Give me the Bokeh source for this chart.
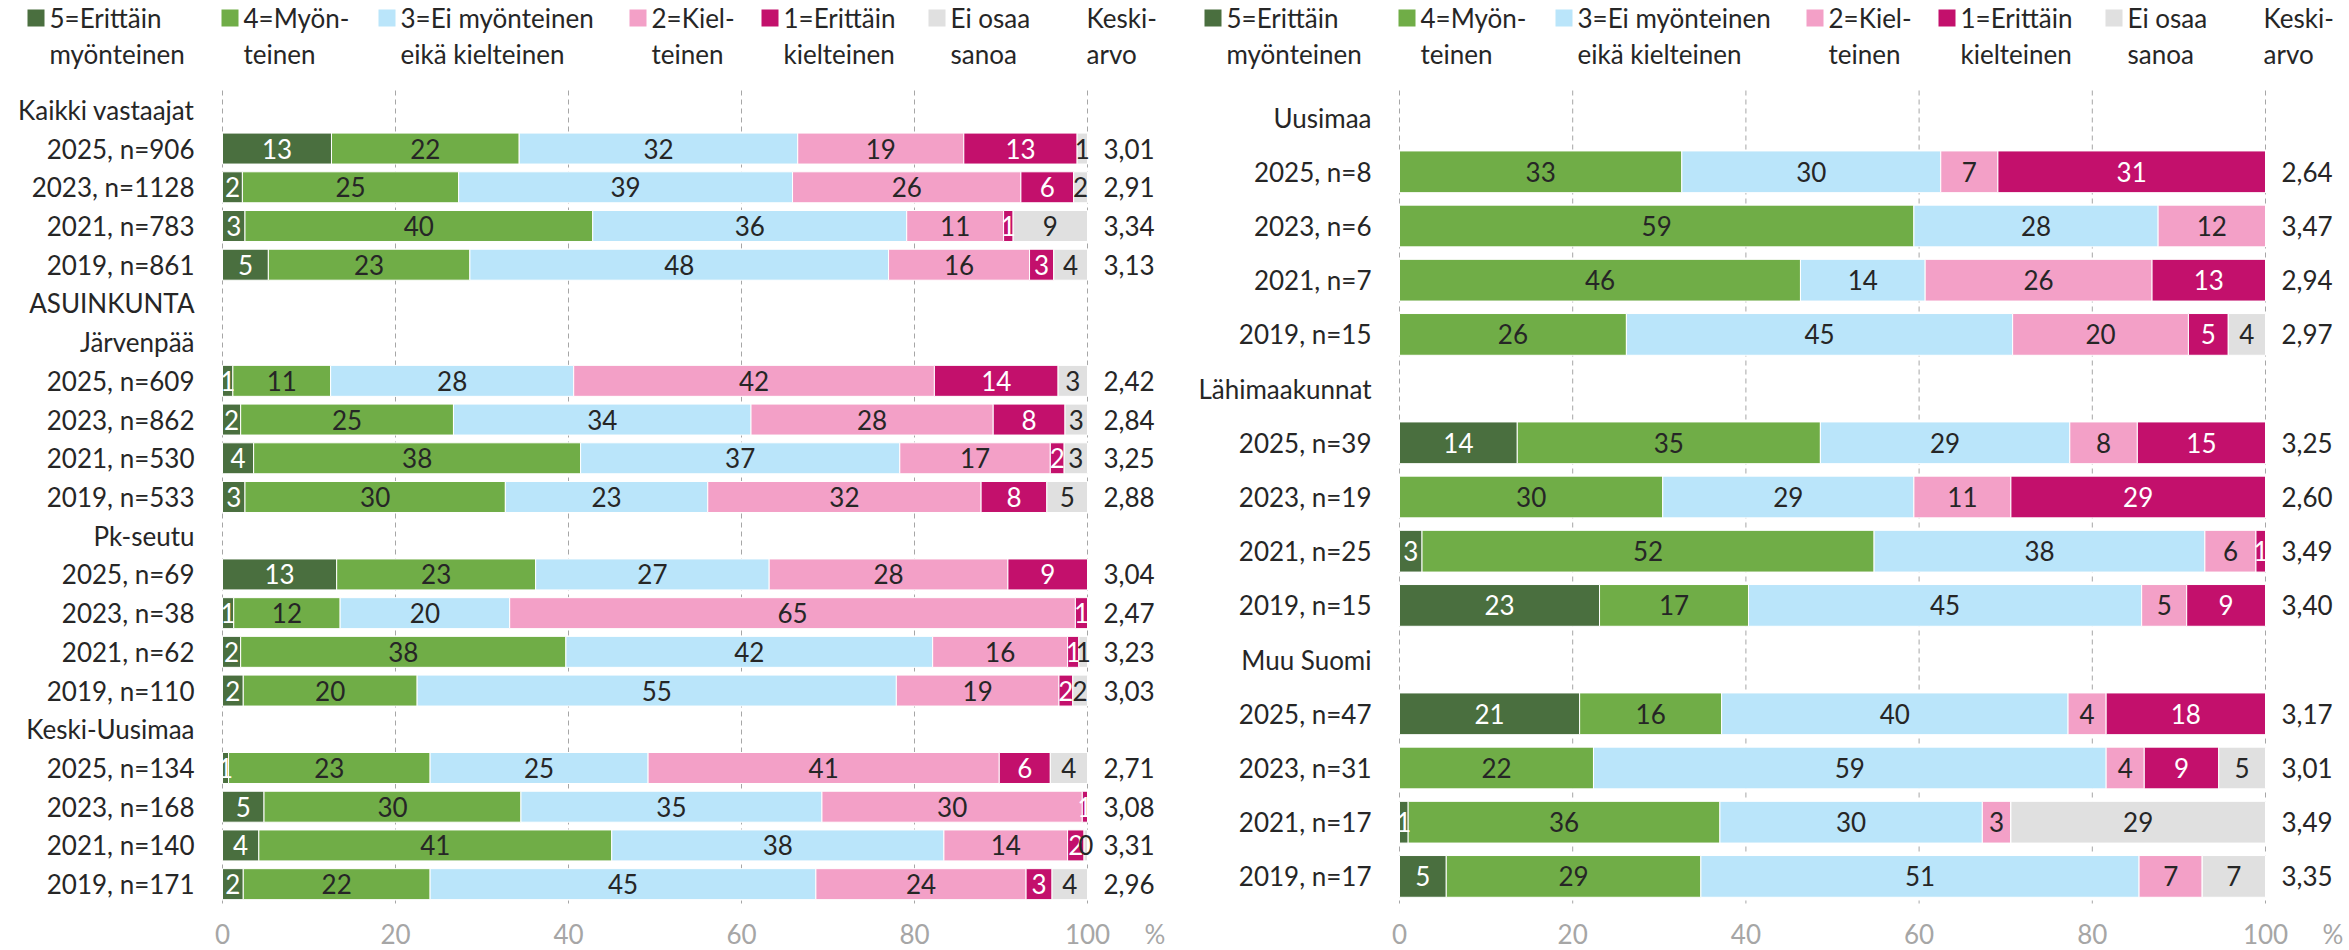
from bokeh.plotting import figure
from bokeh.models import ColumnDataSource, Range1d
from bokeh.layouts import row
from bokeh.core.properties import value
from bokeh.embed import file_html
from bokeh.resources import INLINE

# ---------------- data ----------------
legend_labels = ["5=Erittäin\nmyönteinen", "4=Myön-\nteinen", "3=Ei myönteinen\neikä kielteinen",
                 "2=Kiel-\nteinen", "1=Erittäin\nkielteinen", "Ei osaa\nsanoa"]
mean_header = "Keski-\narvo"
x_ticks = [0, 20, 40, 60, 80, 100]
unit_label = "%"

left_labels = ["Kaikki vastaajat", "2025, n=906", "2023, n=1128", "2021, n=783", "2019, n=861",
               "ASUINKUNTA", "Järvenpää", "2025, n=609", "2023, n=862", "2021, n=530", "2019, n=533",
               "Pk-seutu", "2025, n=69", "2023, n=38", "2021, n=62", "2019, n=110",
               "Keski-Uusimaa", "2025, n=134", "2023, n=168", "2021, n=140", "2019, n=171"]
left_v5 = [12.6, 2.3, 2.6, 5.3, 1.2, 2.1, 3.6, 2.6, 13.2, 1.3, 2.1, 2.4, 0.7, 4.8, 4.2, 2.4]
left_v4 = [21.7, 25.0, 40.2, 23.3, 11.3, 24.6, 37.8, 30.1, 23.0, 12.3, 37.6, 20.1, 23.3, 29.7, 40.8, 21.6]
left_v3 = [32.2, 38.6, 36.3, 48.4, 28.1, 34.4, 36.9, 23.4, 27.0, 19.6, 42.4, 55.4, 25.2, 34.8, 38.4, 44.6]
left_v2 = [19.2, 26.4, 11.2, 16.3, 41.7, 28.0, 17.4, 31.6, 27.6, 65.4, 15.6, 18.8, 40.6, 30.1, 14.3, 24.3]
left_v1 = [13.1, 6.1, 1.1, 2.8, 14.3, 8.3, 1.6, 7.6, 9.2, 1.4, 1.3, 1.6, 5.9, 0.6, 1.9, 3.0]
left_v0 = [1.2, 1.6, 8.6, 3.9, 3.4, 2.6, 2.7, 4.7, 0.0, 0.0, 1.0, 1.7, 4.3, 0.0, 0.4, 4.1]
left_means = [3.01, 2.91, 3.34, 3.13, 2.42, 2.84, 3.25, 2.88, 3.04, 2.47, 3.23, 3.03, 2.71, 3.08, 3.31, 2.96]

right_labels = ["Uusimaa", "2025, n=8", "2023, n=6", "2021, n=7", "2019, n=15",
                "Lähimaakunnat", "2025, n=39", "2023, n=19", "2021, n=25", "2019, n=15",
                "Muu Suomi", "2025, n=47", "2023, n=31", "2021, n=17", "2019, n=17"]
right_v5 = [0.0, 0.0, 0.0, 0.0, 13.6, 0.0, 2.6, 23.1, 20.8, 0.0, 1.0, 5.4]
right_v4 = [32.6, 59.4, 46.3, 26.2, 35.0, 30.4, 52.2, 17.2, 16.4, 22.4, 36.0, 29.4]
right_v3 = [29.9, 28.2, 14.4, 44.6, 28.8, 29.0, 38.2, 45.4, 40.0, 59.2, 30.3, 50.6]
right_v2 = [6.6, 12.4, 26.2, 20.3, 7.8, 11.2, 5.9, 5.2, 4.4, 4.4, 3.3, 7.3]
right_v1 = [30.9, 0.0, 13.1, 4.6, 14.8, 29.4, 1.1, 9.1, 18.4, 8.6, 0.0, 0.0]
right_v0 = [0.0, 0.0, 0.0, 4.3, 0.0, 0.0, 0.0, 0.0, 0.0, 5.4, 29.4, 7.3]
right_means = [2.64, 3.47, 2.94, 2.97, 3.25, 2.60, 3.49, 3.40, 3.17, 3.01, 3.49, 3.35]

# ---------------- style / layout ----------------
FONT = "Lato"
FS = "26px"
TXT = "#262626"
GRAY = "#A6A6A6"
H = 950
PLOT_TOP, PLOT_BOT = 90, 903
keys = ["v5", "v4", "v3", "v2", "v1", "v0"]
colors = ["#4A6F3F", "#70AD47", "#BAE5FA", "#F3A0C7", "#C3106C", "#E0E0E0"]
lab_colors = ["white", TXT, TXT, TXT, "white", TXT]

# legend layout (pixels relative to the plot's left edge / canvas top)
LEG_SWATCH_DX = [-195, -1, 156, 407, 539, 706]
LEG_MEAN_DX = 864
LEG_SWATCH = 17
LEG_GAP = 22
LEG_LINE_Y = [17, 53]


def fmt_int(v):
    return str(int(v + 0.5))


def make_panel(labels, series, means, fig_w, plot_l, plot_r, bar_h):
    n = len(labels)
    bar_rows = [i for i, t in enumerate(labels) if "n=" in t]
    ppu = (plot_r - plot_l) / 100.0
    rowh = (PLOT_BOT - PLOT_TOP) / n
    xr = Range1d(-plot_l / ppu, (fig_w - plot_l) / ppu)
    yr = Range1d(n - 0.5 + (H - PLOT_BOT) / rowh, -0.5 - PLOT_TOP / rowh)

    def px_x(dx):
        return dx / ppu

    def px_y(cy):
        return -0.5 + (cy - PLOT_TOP) / rowh

    p = figure(width=fig_w, height=H, x_range=xr, y_range=yr, output_backend="svg",
               toolbar_location=None, min_border=0, outline_line_color=None,
               x_axis_location=None, y_axis_location=None)
    p.xgrid.visible = False
    p.ygrid.visible = False
    p.background_fill_color = "white"
    p.border_fill_color = "white"

    # dashed vertical gridlines
    p.segment(x0=x_ticks, x1=x_ticks, y0=[-0.5] * len(x_ticks), y1=[n - 0.5] * len(x_ticks),
              line_color=GRAY, line_dash="5 4", line_width=1)

    data = {"y": bar_rows}
    for k, s in zip(keys, series):
        data[k] = s
    src = ColumnDataSource(data)
    p.hbar_stack(keys, y="y", height=bar_h, fill_color=colors,
                 line_color="white", line_width=1, source=src)

    tx, ty, tt, tc = [], [], [], []
    for j, r in enumerate(bar_rows):
        left = 0.0
        for k, s in enumerate(series):
            v = s[j]
            if v > 0:
                tx.append(left + v / 2)
                ty.append(r)
                tt.append(fmt_int(v))
                tc.append(lab_colors[k])
            left += v
    common = dict(text_font=value(FONT), text_font_size=FS, text_baseline="middle")
    p.text(x="x", y="y", text="t", text_color="c",
           source=ColumnDataSource(dict(x=tx, y=ty, t=tt, c=tc)),
           text_align="center", **common)

    # category labels
    p.text(x=[0] * n, y=list(range(n)), text=labels, x_offset=-28,
           text_align="right", text_color=TXT, **common)
    # means
    p.text(x=[100] * len(bar_rows), y=bar_rows,
           text=[f"{m:.2f}".replace(".", ",") for m in means], x_offset=16,
           text_align="left", text_color=TXT, **common)
    # x tick labels and unit
    p.text(x=x_ticks, y=[n - 0.5] * len(x_ticks), text=[str(t) for t in x_ticks],
           y_offset=30, text_align="center", text_color=GRAY, **common)
    p.text(x=[100], y=[n - 0.5], text=[unit_label], x_offset=57, y_offset=30,
           text_align="left", text_color=GRAY, **common)

    # legend: swatches + two-line labels, then the mean header
    sw_x = [px_x(dx + LEG_SWATCH / 2) for dx in LEG_SWATCH_DX]
    p.scatter(x=sw_x, y=[px_y(LEG_LINE_Y[0] + 0.5)] * len(sw_x), marker="square",
              size=LEG_SWATCH, fill_color=colors, line_color=None)
    lx, ly, lt = [], [], []
    for dx, lab in zip(LEG_SWATCH_DX + [LEG_MEAN_DX - LEG_GAP],
                       legend_labels + [mean_header]):
        for line, cy in zip(lab.split("\n"), LEG_LINE_Y):
            lx.append(px_x(dx + LEG_GAP))
            ly.append(px_y(cy))
            lt.append(line)
    p.text(x=lx, y=ly, text=lt, text_align="left", text_color=TXT, **common)
    return p


left = make_panel(left_labels, [left_v5, left_v4, left_v3, left_v2, left_v1, left_v0],
                  left_means, 1180, 222, 1087, 0.8)
right = make_panel(right_labels, [right_v5, right_v4, right_v3, right_v2, right_v1, right_v0],
                   right_means, 1169, 219, 1085, 0.77)

layout = row(left, right, spacing=0)
open("out.html", "w").write(file_html(layout, INLINE))
